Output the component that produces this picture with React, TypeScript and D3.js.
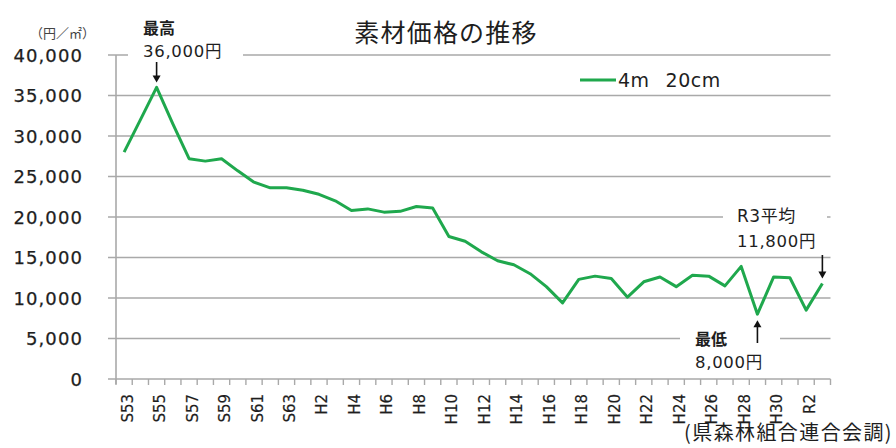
import React from "react";
import * as d3 from "d3";

const categories = [
  "S53","S54","S55","S56","S57","S58","S59","S60","S61","S62","S63",
  "H1","H2","H3","H4","H5","H6","H7","H8","H9","H10",
  "H11","H12","H13","H14","H15","H16","H17","H18","H19","H20",
  "H21","H22","H23","H24","H25","H26","H27","H28","H29","H30",
  "R1","R2","R3",
];
const values = [
  28000, 32000, 36000, 31500, 27200, 26900, 27200, 25700, 24300, 23600, 23600,
  23300, 22800, 22000, 20800, 21000, 20600, 20700, 21300, 21100, 17600,
  17000, 15700, 14600, 14100, 13000, 11400, 9400, 12300, 12700, 12400,
  10100, 12000, 12600, 11400, 12800, 12700, 11500, 13900, 8000, 12600,
  12500, 8500, 11800,
];
const yTicks = [0, 5000, 10000, 15000, 20000, 25000, 30000, 35000, 40000];
const seriesName = "4m";
const seriesName2 = "20cm";
const title = "素材価格の推移";
const unitLabel = "（円／㎡）";
const sourceLabel = "(県森林組合連合会調)";

const FONT = "'DejaVu Sans', 'Noto Sans CJK JP', sans-serif";
const JFONT = "'Noto Sans CJK JP', 'DejaVu Sans', sans-serif";
const GREEN = "#1fa84d";
const GRID = "#a9a9a9";
const TEXT = "#1e1e1e";

export default function App() {
  const W = 896, H = 448;
  const left = 116, right = 830.5, top = 55, bottom = 379;
  const x = d3.scaleBand<string>().domain(categories).range([left, right]).paddingInner(0).paddingOuter(0);
  const y = d3.scaleLinear().domain([0, 40000]).range([bottom, top]);
  const cx = (c: string) => (x(c) as number) + x.bandwidth() / 2;

  const line = d3
    .line<number>()
    .x((_, i) => cx(categories[i]))
    .y((d) => y(d));

  const tickXs = categories.map((c) => x(c) as number).concat([right]);

  const maxIdx = values.indexOf(d3.max(values) as number);
  const minIdx = values.indexOf(d3.min(values) as number);
  const lastIdx = values.length - 1;

  const arrowDown = (ax: number, y1: number, y2: number) => (
    <g>
      <line x1={ax} x2={ax} y1={y1} y2={y2 - 6} stroke="#111" strokeWidth={1.6} />
      <path d={`M${ax - 4},${y2 - 7} L${ax + 4},${y2 - 7} L${ax},${y2} Z`} fill="#111" />
    </g>
  );
  const arrowUp = (ax: number, y1: number, y2: number) => (
    <g>
      <line x1={ax} x2={ax} y1={y1} y2={y2 + 6} stroke="#111" strokeWidth={1.6} />
      <path d={`M${ax - 4},${y2 + 7} L${ax + 4},${y2 + 7} L${ax},${y2} Z`} fill="#111" />
    </g>
  );

  return (
    <svg width={W} height={H} style={{ position: "absolute", left: 0, top: 0, background: "#fff" }}>
      <rect width={W} height={H} fill="#fff" />
      {/* gridlines */}
      {yTicks.map((t) => (
        <line key={t} x1={108} x2={right} y1={y(t)} y2={y(t)} stroke={GRID} strokeWidth={1.6} />
      ))}
      {/* y axis */}
      <line x1={left} x2={left} y1={top} y2={bottom + 5} stroke={GRID} strokeWidth={1.6} />
      {/* x ticks */}
      {tickXs.map((tx, i) => (
        <line key={i} x1={tx} x2={tx} y1={bottom} y2={bottom + 6} stroke={GRID} strokeWidth={1.4} />
      ))}
      {/* y labels */}
      {yTicks.map((t) => (
        <text key={t} x={83} y={y(t) + 6.5} textAnchor="end" fontFamily={FONT} fontSize={18}
          letterSpacing={1.1} fill={TEXT} stroke={TEXT} strokeWidth={0.25}>
          {d3.format(",")(t)}
        </text>
      ))}
      {/* x labels */}
      {categories.map((c, i) =>
        i % 2 === 0 ? (
          <text key={c} transform={`translate(${cx(c) + 8.5},${394}) rotate(-90)`} textAnchor="end"
            fontFamily={FONT} fontSize={15} fill={TEXT} stroke={TEXT} strokeWidth={0.2}>
            {c}
          </text>
        ) : null
      )}
      {/* annotation backgrounds */}
      <rect x={128} y={14} width={115} height={50} fill="#fff" />
      <rect x={723} y={200} width={104} height={52} fill="#fff" />
      <rect x={680} y={325} width={100} height={48} fill="#fff" />
      {/* line */}
      <path d={line(values) || ""} fill="none" stroke={GREEN} strokeWidth={3} strokeLinejoin="round" />
      {/* title */}
      <text x={446} y={42} textAnchor="middle" fontFamily={JFONT} fontSize={25} letterSpacing={1.2} fill={TEXT}>
        {title}
      </text>
      {/* unit */}
      <text x={30} y={38} fontFamily={JFONT} fontSize={13} fill="#444">{unitLabel}</text>
      {/* legend */}
      <line x1={580} x2={616} y1={80} y2={80} stroke={GREEN} strokeWidth={3} />
      <text x={618} y={87} fontFamily={FONT} fontSize={19} fill={TEXT} letterSpacing={0.5}>
        {seriesName}
        <tspan dx={16}>{seriesName2}</tspan>
      </text>
      {/* max annotation */}
      <text x={143} y={34} fontFamily={JFONT} fontSize={16} fontWeight="bold" fill={TEXT}>最高</text>
      <text x={143} y={57} fontFamily={FONT} fontSize={16.5} letterSpacing={0.7} fill={TEXT}>
        {d3.format(",")(values[maxIdx])}円
      </text>
      {arrowDown(cx(categories[maxIdx]), 62, y(values[maxIdx]) - 5)}
      {/* R3 annotation */}
      <text x={737} y={222} fontFamily={FONT} fontSize={17} letterSpacing={0.5} fill={TEXT}>R3平均</text>
      <text x={737} y={247} fontFamily={FONT} fontSize={16.5} letterSpacing={0.7} fill={TEXT}>
        {d3.format(",")(values[lastIdx])}円
      </text>
      {arrowDown(cx(categories[lastIdx]), 255, y(values[lastIdx]) - 5)}
      {/* min annotation */}
      <text x={695} y={345} fontFamily={JFONT} fontSize={16} fontWeight="bold" fill={TEXT}>最低</text>
      <text x={695} y={368} fontFamily={FONT} fontSize={16.5} letterSpacing={0.7} fill={TEXT}>
        {d3.format(",")(values[minIdx])}円
      </text>
      {arrowUp(cx(categories[minIdx]), 343, y(values[minIdx]) + 6)}
      {/* source */}
      <text x={893} y={440} textAnchor="end" fontFamily={JFONT} fontSize={20} letterSpacing={1.4} fill={TEXT}>{sourceLabel}</text>
    </svg>
  );
}
